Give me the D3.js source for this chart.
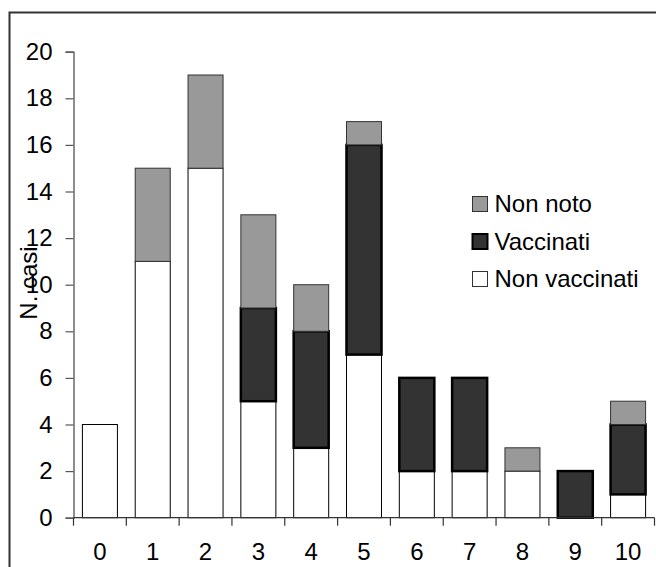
<!DOCTYPE html>
<html>
<head>
<meta charset="utf-8">
<script src="https://cdn.jsdelivr.net/npm/d3@7"></script>
<style>
  html, body { margin: 0; padding: 0; background: #fff; }
  svg { display: block; }
  text { font-family: "Liberation Sans", Arial, sans-serif; fill: #000; }
</style>
</head>
<body>
<svg id="chart" width="656" height="567"></svg>
<script>
const categories = ["0","1","2","3","4","5","6","7","8","9","10"];
const nonVaccinati = [4, 11, 15, 5, 3, 7, 2, 2, 2, 0, 1];
const vaccinati    = [0, 0, 0, 4, 5, 9, 4, 4, 0, 2, 3];
const nonNoto      = [0, 4, 4, 4, 2, 1, 0, 0, 1, 0, 1];
const yTicks = [0, 2, 4, 6, 8, 10, 12, 14, 16, 18, 20];
const seriesNames = ["Non vaccinati", "Vaccinati", "Non noto"];
const legendOrder = ["Non noto", "Vaccinati", "Non vaccinati"];

const styles = {
  "Non vaccinati": { fill: "#ffffff", stroke: "#000000", sw: 1 },
  "Vaccinati":     { fill: "#333333", stroke: "#000000", sw: 2.5 },
  "Non noto":      { fill: "#999999", stroke: "#333333", sw: 1 }
};

const svg = d3.select("#chart");

// outer frame (extends past right & bottom edge)
svg.append("rect")
  .attr("x", 9.5).attr("y", 12.5)
  .attr("width", 700).attr("height", 600)
  .attr("fill", "none").attr("stroke", "#333").attr("stroke-width", 2);

const x = d3.scaleBand().domain(categories).range([73.5, 654.5]).paddingInner(0.337).paddingOuter(0.1685);
const y = d3.scaleLinear().domain([0, 20]).range([517.7, 51.7]);

const table = categories.map((c, i) => ({
  cat: c,
  "Non vaccinati": nonVaccinati[i],
  "Vaccinati": vaccinati[i],
  "Non noto": nonNoto[i]
}));
const stacked = d3.stack().keys(seriesNames)(table);

stacked.forEach(layer => {
  const st = styles[layer.key];
  svg.append("g").selectAll("rect")
    .data(layer.filter(d => d[1] - d[0] > 0))
    .join("rect")
    .attr("x", d => x(d.data.cat))
    .attr("width", x.bandwidth())
    .attr("y", d => y(d[1]))
    .attr("height", d => y(d[0]) - y(d[1]))
    .attr("fill", st.fill)
    .attr("stroke", st.stroke)
    .attr("stroke-width", st.sw);
});

// y axis
const yAxis = svg.append("g")
  .attr("transform", "translate(73.5,0)")
  .call(d3.axisLeft(y).tickValues(yTicks).tickSize(8).tickPadding(13).tickFormat(d3.format("d")));
yAxis.select(".domain").attr("stroke", "#444").attr("stroke-width", 1.2);
yAxis.selectAll(".tick line").attr("stroke", "#555").attr("stroke-width", 1.2);
yAxis.selectAll(".tick text").style("font-size", "24px").attr("fill", "#000")
  .style("font-family", "'Liberation Sans', Arial, sans-serif");

// x axis (ticks at band boundaries)
const xAxisG = svg.append("g").attr("transform", "translate(0," + y(0) + ")");
xAxisG.append("line")
  .attr("x1", 73.5).attr("x2", 654.5).attr("y1", 0).attr("y2", 0)
  .attr("stroke", "#333").attr("stroke-width", 1.2);
const boundaries = categories.map(c => x(c) - x.step() * x.paddingInner() / 2);
boundaries.push(x(categories[categories.length - 1]) + x.bandwidth() + x.step() * x.paddingInner() / 2);
xAxisG.selectAll("line.tk").data(boundaries).join("line")
  .attr("class", "tk")
  .attr("x1", d => d).attr("x2", d => d)
  .attr("y1", 0).attr("y2", 8)
  .attr("stroke", "#333").attr("stroke-width", 1.2);
xAxisG.selectAll("text").data(categories).join("text")
  .attr("x", d => x(d) + x.bandwidth() / 2)
  .attr("y", 34)
  .attr("dy", "0.35em")
  .attr("text-anchor", "middle")
  .style("font-size", "24px")
  .text(d => d);

// y title
svg.append("text")
  .attr("transform", "translate(37,283) rotate(-90)")
  .attr("text-anchor", "middle")
  .style("font-size", "24px")
  .text("N. casi");

// legend
const legend = svg.append("g").attr("transform", "translate(472.5,196.5)");
legendOrder.forEach((name, i) => {
  const st = styles[name];
  const g = legend.append("g").attr("transform", "translate(0," + (i * 37.5) + ")");
  g.append("rect")
    .attr("width", 15).attr("height", 15)
    .attr("fill", st.fill)
    .attr("stroke", name === "Vaccinati" ? "#000" : "#333")
    .attr("stroke-width", name === "Vaccinati" ? 2 : 1);
  g.append("text")
    .attr("x", 22).attr("y", 7.5).attr("dy", "0.35em")
    .style("font-size", "24px")
    .text(name);
});
</script>
</body>
</html>
